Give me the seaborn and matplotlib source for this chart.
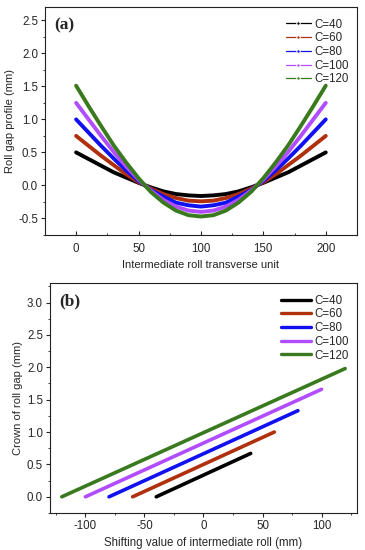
import numpy as np
import pandas as pd
import matplotlib
matplotlib.use("Agg")
import matplotlib.pyplot as plt
import seaborn as sns
from matplotlib.ticker import MultipleLocator

# ---- data ----
labels = ["C=40", "C=60", "C=80", "C=100", "C=120"]
colors = ["#000000", "#b0300e", "#1010f0", "#b24cff", "#3a7a1e"]

x_a = [0, 10, 20, 30, 40, 50, 60, 70, 80, 90, 100,
       110, 120, 130, 140, 150, 160, 170, 180, 190, 200]
y_c40 = [0.50, 0.40, 0.30, 0.20, 0.12, 0.04, -0.03, -0.09, -0.13, -0.15, -0.16,
         -0.15, -0.13, -0.09, -0.03, 0.04, 0.12, 0.20, 0.30, 0.40, 0.50]
y_c60 = [0.75, 0.60, 0.45, 0.31, 0.17, 0.05, -0.05, -0.13, -0.19, -0.23, -0.24,
         -0.23, -0.19, -0.13, -0.05, 0.05, 0.17, 0.31, 0.45, 0.60, 0.75]
y_c80 = [1.00, 0.80, 0.60, 0.41, 0.23, 0.07, -0.07, -0.17, -0.26, -0.30, -0.32,
         -0.30, -0.26, -0.17, -0.07, 0.07, 0.23, 0.41, 0.60, 0.80, 1.00]
y_c100 = [1.25, 1.00, 0.75, 0.51, 0.29, 0.09, -0.08, -0.22, -0.32, -0.38, -0.40,
          -0.38, -0.32, -0.22, -0.08, 0.09, 0.29, 0.51, 0.75, 1.00, 1.25]
y_c120 = [1.51, 1.20, 0.90, 0.61, 0.35, 0.11, -0.10, -0.26, -0.38, -0.45, -0.47,
          -0.45, -0.38, -0.26, -0.10, 0.11, 0.35, 0.61, 0.90, 1.20, 1.51]
profiles = [y_c40, y_c60, y_c80, y_c100, y_c120]

shift_start = [-40, -60, -80, -100, -120]
shift_end = [40, 60, 80, 100, 120]
crown_start = [0.0, 0.0, 0.0, 0.0, 0.0]
crown_end = [0.67, 1.00, 1.33, 1.66, 1.98]

rows_a = []
for lab, ys in zip(labels, profiles):
    for xv, yv in zip(x_a, ys):
        rows_a.append({"x": xv, "y": yv, "C": lab})
df_a = pd.DataFrame(rows_a)

rows_b = []
for lab, x0, x1, y0, y1 in zip(labels, shift_start, shift_end, crown_start, crown_end):
    rows_b.append({"x": x0, "y": y0, "C": lab})
    rows_b.append({"x": x1, "y": y1, "C": lab})
df_b = pd.DataFrame(rows_b)

# ---- style ----
sns.set_theme(style="white")
plt.rcParams["font.family"] = ["Liberation Sans", "DejaVu Sans"]
plt.rcParams["axes.linewidth"] = 0.8
plt.rcParams["axes.unicode_minus"] = False

fig = plt.figure(figsize=(3.65, 5.5), dpi=100)
ax1 = fig.add_axes([0.123, 0.5727, 0.855, 0.4145])
ax2 = fig.add_axes([0.137, 0.0673, 0.841, 0.418])

pal = dict(zip(labels, colors))

sns.lineplot(data=df_a, x="x", y="y", hue="C", hue_order=labels, palette=pal,
             ax=ax1, linewidth=2.8, sort=False)
sns.lineplot(data=df_b, x="x", y="y", hue="C", hue_order=labels, palette=pal,
             ax=ax2, linewidth=2.6, sort=False)

ax1.set_xlim(-25, 225)
ax1.set_ylim(-0.75, 2.7)
ax1.xaxis.set_major_locator(MultipleLocator(50))
ax1.xaxis.set_minor_locator(MultipleLocator(25))
ax1.set_yticks([-0.5, 0.0, 0.5, 1.0, 1.5, 2.0, 2.5])
ax1.set_yticklabels(["-0.5", "0.0", "0.5", "1.0", "1.5", "2.0", "2.5"])
ax1.yaxis.set_minor_locator(MultipleLocator(0.25))
ax1.set_xlabel("Intermediate roll transverse unit", fontsize=8, labelpad=3)
ax1.set_ylabel("Roll gap profile (mm)", fontsize=8, labelpad=2)
ax1.tick_params(axis="x", which="both", direction="in", bottom=True, labelsize=8.3, pad=6)
ax1.tick_params(axis="x", which="major", length=3, width=0.8)
ax1.tick_params(axis="x", which="minor", length=1.5, width=0.6)
ax1.tick_params(axis="y", which="both", direction="out", left=True, labelsize=8.3, pad=2)
ax1.tick_params(axis="y", which="major", length=3, width=0.8)
ax1.tick_params(axis="y", which="minor", length=1.5, width=0.6)
ax1.text(0.03, 0.955, "(a)", transform=ax1.transAxes, fontsize=12.5, fontweight="bold",
         family=["Liberation Serif", "DejaVu Serif"], va="top", ha="left")

ax2.set_xlim(-130, 130)
ax2.set_ylim(-0.25, 3.3)
ax2.xaxis.set_major_locator(MultipleLocator(50))
ax2.xaxis.set_minor_locator(MultipleLocator(25))
ax2.set_yticks([0.0, 0.5, 1.0, 1.5, 2.0, 2.5, 3.0])
ax2.set_yticklabels(["0.0", "0.5", "1.0", "1.5", "2.0", "2.5", "3.0"])
ax2.yaxis.set_minor_locator(MultipleLocator(0.25))
ax2.set_xlabel("Shifting value of intermediate roll (mm)", fontsize=8.3, labelpad=4)
ax2.set_ylabel("Crown of roll gap (mm)", fontsize=8, labelpad=3)
ax2.tick_params(axis="both", which="both", direction="out", bottom=True, left=True,
                labelsize=8.3, pad=2)
ax2.tick_params(axis="both", which="major", length=3, width=0.8)
ax2.tick_params(axis="both", which="minor", length=1.5, width=0.6)
ax2.text(0.03, 0.955, "(b)", transform=ax2.transAxes, fontsize=12.5, fontweight="bold",
         family=["Liberation Serif", "DejaVu Serif"], va="top", ha="left")

for ax in (ax1, ax2):
    for s in ax.spines.values():
        s.set_visible(True)
        s.set_color("#222222")
        s.set_linewidth(0.8)

leg1 = ax1.legend(loc="upper right", bbox_to_anchor=(1.0, 0.985), frameon=False,
                  fontsize=8.3, handlelength=2.2, handletextpad=0.3, labelspacing=0.15,
                  borderaxespad=0.3)
for h in leg1.get_lines():
    h.set_linewidth(0.9)
    h.set_marker("o")
    h.set_markersize(2.5)

leg2 = ax2.legend(loc="upper right", bbox_to_anchor=(1.0, 0.985), frameon=False,
                  fontsize=8.3, handlelength=2.6, handletextpad=0.3, labelspacing=0.15,
                  borderaxespad=0.3)
for h in leg2.get_lines():
    h.set_linewidth(2.4)

fig.savefig("out.png", dpi=100)
